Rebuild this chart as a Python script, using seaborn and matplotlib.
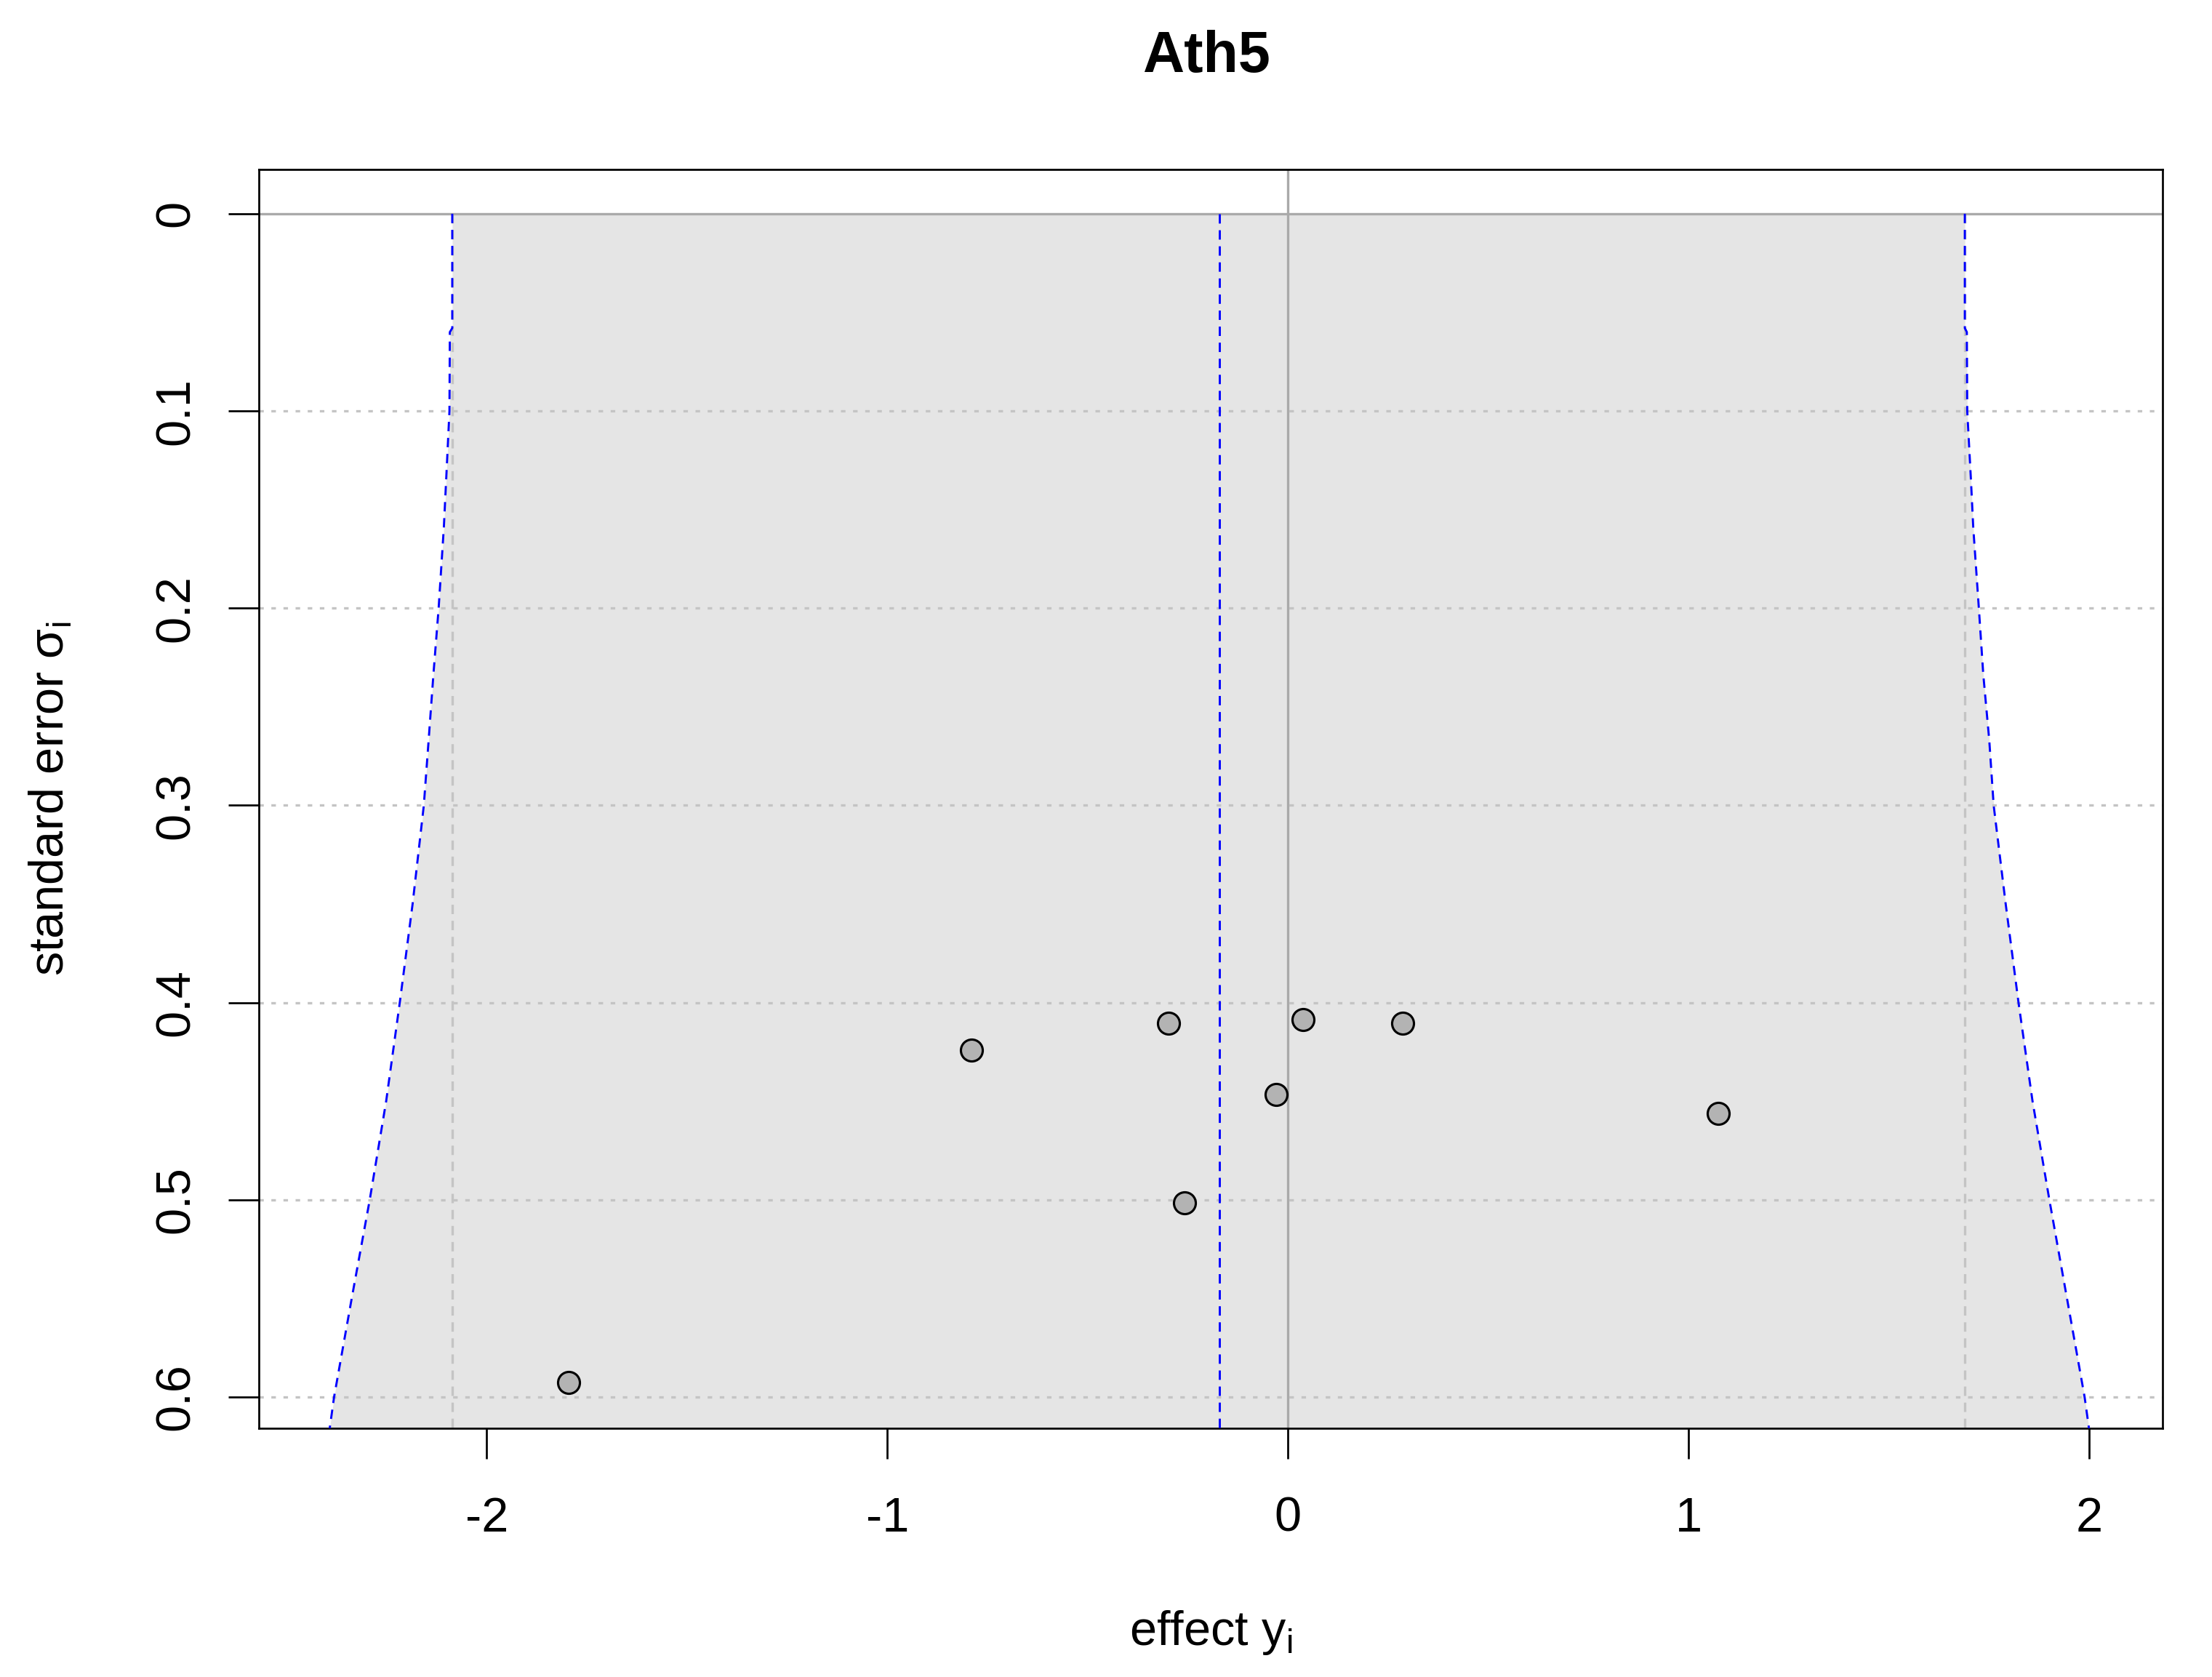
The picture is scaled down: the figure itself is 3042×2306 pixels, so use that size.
import numpy as np
import pandas as pd
import matplotlib
matplotlib.use("Agg")
import matplotlib.pyplot as plt
import seaborn as sns

# ==========
# 1. DATOS
# ==========
titulo = "Ath5"

efecto = [-1.796, -0.790, -0.2975, -0.2576, -0.0289, 0.0378, 0.287, 1.075]
error_std = [0.5926, 0.4241, 0.4106, 0.5016, 0.4467, 0.4085, 0.4106, 0.4561]

# bordes del embudo (intervalo de prediccion 95%)
embudo_y = [0.0, 0.058, 0.060, 0.10, 0.134, 0.159, 0.20, 0.2335, 0.267, 0.30,
            0.35, 0.40, 0.45, 0.50, 0.55, 0.60, 0.616]
embudo_izq = [-2.086, -2.086, -2.092, -2.093, -2.101, -2.107, -2.120, -2.133, -2.145, -2.157,
              -2.185, -2.217, -2.251, -2.292, -2.337, -2.381, -2.392]
embudo_der = [1.690, 1.690, 1.695, 1.696, 1.705, 1.711, 1.725, 1.736, 1.751, 1.762,
              1.792, 1.824, 1.859, 1.901, 1.945, 1.989, 2.000]

centro = -0.170
limites_pred = [-2.086, 1.690]

x_ticks = [-2, -1, 0, 1, 2]
y_ticks = [0, 0.1, 0.2, 0.3, 0.4, 0.5, 0.6]
y_tick_labels = ["0", "0.1", "0.2", "0.3", "0.4", "0.5", "0.6"]

df_puntos = pd.DataFrame({"efecto": efecto, "error": error_std})
df_embudo = pd.DataFrame({"y": embudo_y, "izq": embudo_izq, "der": embudo_der})

# ==========
# 2. ESTILO
# ==========
sns.set_style("white")
plt.rcParams["font.family"] = ["Liberation Sans", "DejaVu Sans"]
plt.rcParams["mathtext.fontset"] = "custom"
plt.rcParams["mathtext.rm"] = "Liberation Sans"
plt.rcParams["lines.scale_dashes"] = False
plt.rcParams["text.color"] = "black"
plt.rcParams["axes.labelcolor"] = "black"
plt.rcParams["xtick.color"] = "black"
plt.rcParams["ytick.color"] = "black"

fig = plt.figure(figsize=(3042 / 300, 2306 / 300), dpi=300)
ax = fig.add_axes([0.1169, 0.1483, 0.8608, 0.7507])

ylim_inf, ylim_sup = 0.6159, -0.0225
ax.set_xlim(-2.5695, 2.1839)
ax.set_ylim(ylim_inf, ylim_sup)

# area sombreada
ax.fill_betweenx(df_embudo["y"], df_embudo["izq"], df_embudo["der"],
                 color="#E5E5E5", lw=0, zorder=1)

# rejilla
for yt in y_ticks[1:]:
    ax.axhline(yt, color="#C4C4C4", lw=0.8, ls=(0, (1.5, 2.5)), zorder=2)
ax.vlines(limites_pred, 0, ylim_inf, color="#C4C4C4", lw=0.8,
          linestyles=[(0, (3.1, 2.2))], zorder=2)
ax.axhline(0, color="#AAAAAA", lw=0.8, zorder=2)
ax.axvline(0, color="#AAAAAA", lw=0.8, zorder=2)

# lineas azules
guion = (0, (3.1, 2.2))
sns.lineplot(data=df_embudo, x="izq", y="y", sort=False, estimator=None,
             color="#0000FF", lw=0.7, ax=ax, zorder=3).lines[-1].set_linestyle(guion)
sns.lineplot(data=df_embudo, x="der", y="y", sort=False, estimator=None,
             color="#0000FF", lw=0.7, ax=ax, zorder=3).lines[-1].set_linestyle(guion)
ax.vlines([centro], 0, ylim_inf, color="#0000FF", lw=0.7,
          linestyles=[guion], zorder=3)

# puntos
sns.scatterplot(data=df_puntos, x="efecto", y="error", s=52, color="#B3B3B3",
                edgecolor="black", linewidth=0.75, ax=ax, zorder=4)

ax.set_ylim(ylim_inf, ylim_sup)

# ejes
for s in ax.spines.values():
    s.set_visible(True)
    s.set_color("black")
    s.set_linewidth(0.65)

ax.set_xticks(x_ticks)
ax.set_xticklabels([str(v) for v in x_ticks])
ax.set_yticks(y_ticks)
ax.set_yticklabels(y_tick_labels, rotation=90, va="center")
ax.tick_params(axis="both", direction="out", length=10, width=0.65,
               labelsize=16, color="black", labelcolor="black",
               bottom=True, left=True)
ax.tick_params(axis="x", pad=12.5)
ax.tick_params(axis="y", pad=9.5)

ax.set_xlabel(r"effect y$_\mathregular{i}$", fontsize=16, color="black")
ax.xaxis.set_label_coords(0.5, -0.1435)
ax.set_ylabel(r"standard error σ$_\mathregular{i}$", fontsize=16, color="black")
ax.yaxis.set_label_coords(-0.097, 0.5)

fig.text(0.5454, 0.957, titulo, ha="center", va="baseline",
         fontsize=19, fontweight="bold", color="black")

fig.savefig("out.png", dpi=300)
